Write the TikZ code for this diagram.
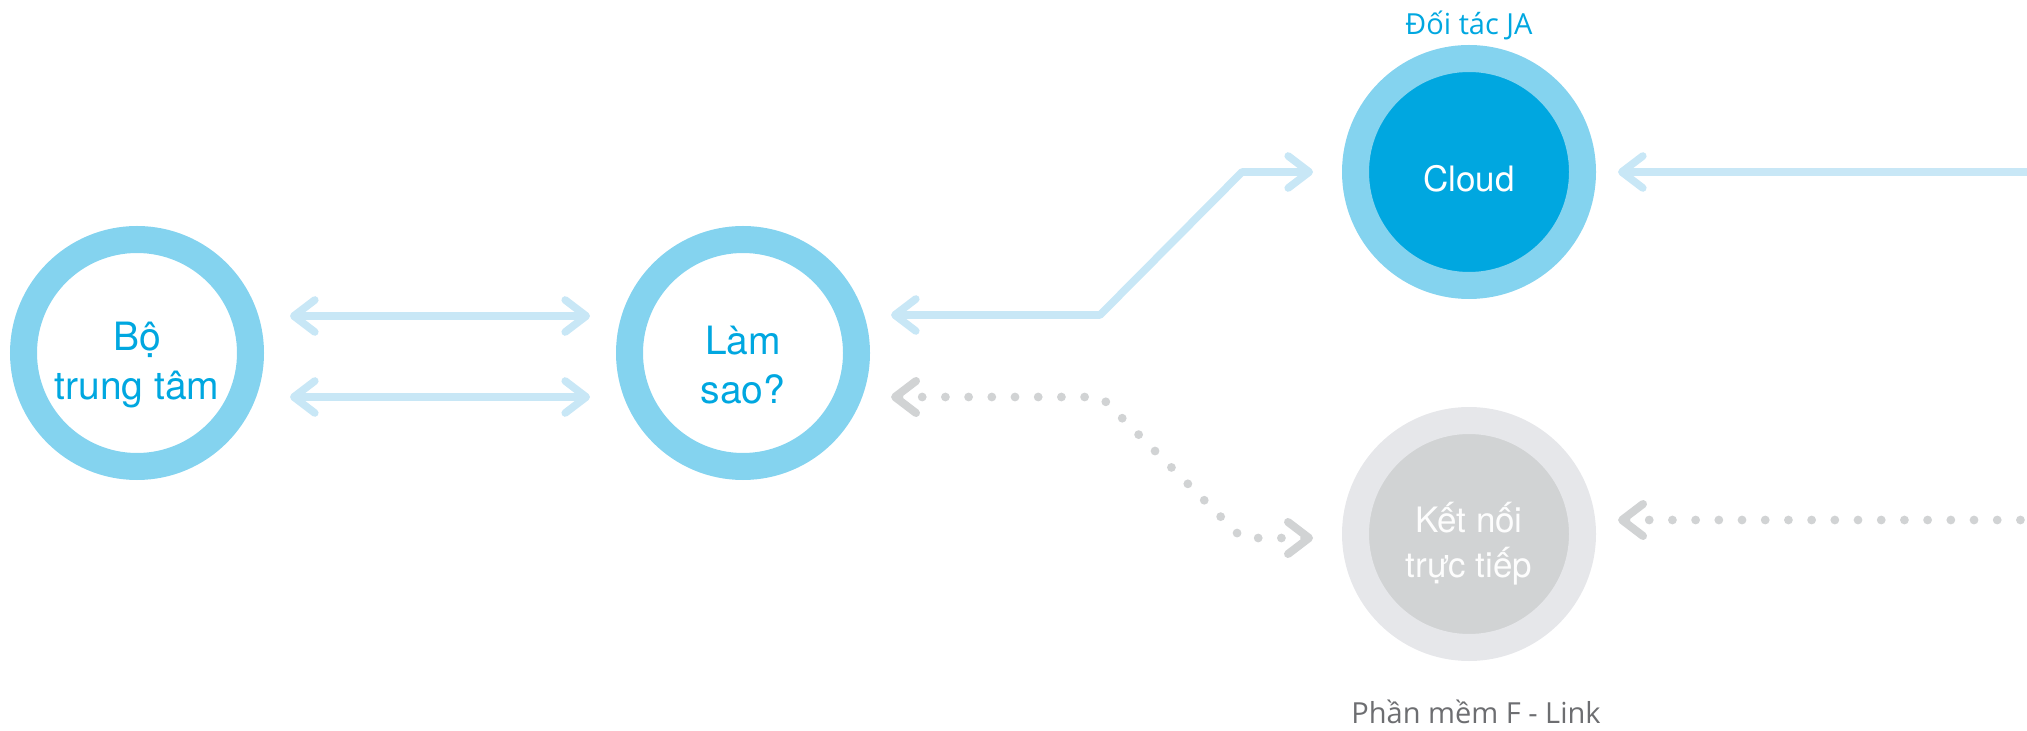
\documentclass[tikz,border=0pt]{standalone}
\usepackage{fontspec}
\setmainfont{TeX Gyre Heros}
\newfontfamily\tagfont{Open Sans}
\usepackage{xcolor}
\definecolor{ringblue}{RGB}{132,211,239}
\definecolor{cloudblue}{RGB}{0,167,224}
\definecolor{linkblue}{RGB}{200,231,246}
\definecolor{ringgrey}{RGB}{230,231,234}
\definecolor{fillgrey}{RGB}{209,211,212}
\definecolor{textgrey}{RGB}{109,110,113}
\usetikzlibrary{arrows.meta,positioning,calc}

\begin{document}
\begin{tikzpicture}[x=0.5pt,y=-0.5pt,
      ring/.style={circle,draw=ringblue,line width=13.5pt,minimum size=113.5pt,
                   inner sep=0pt},
      big/.style={align=center,text=cloudblue,font=\fontsize{19.5}{24.5}\selectfont},
      small/.style={align=center,text=white,font=\fontsize{17.5}{22.4}\selectfont},
      tag/.style={font=\tagfont\fontsize{14.5}{17}\selectfont,anchor=base},
      link/.style={draw=linkblue,line width=3.8pt,line join=round,
                   >={Straight Barb[round,length=10.5pt,width=16pt]}},
      dots/.style={draw=fillgrey,line width=4.4pt,line cap=round,line join=round,
                   dash pattern=on 0pt off 11.6pt,
                   >={Straight Barb[round,length=10.5pt,width=16pt,line width=4pt]}}]
      \useasboundingbox (0,0) rectangle (2027,731);
      \node[ring,label={[big,yshift=-6pt]center:{Bộ\\trung tâm}}] (hub) at (137,353) {};
      \node[ring,label={[big,yshift=-6pt]center:{Làm\\sao?}}] (how) at (743,353) {};
      \node[ring,fill=cloudblue,label={[small,yshift=-3.2pt]center:Cloud}] (cloud) at (1469,172) {};
      \node[ring,draw=ringgrey,fill=fillgrey,
            label={[small,text=white!96!fillgrey,yshift=-4.8pt]center:{Kết nối\\trực tiếp}}] (direct) at (1469,534) {};
      \node[tag,text=cloudblue] (partner) at (1469,35) {Đối tác JA};
      \node[tag,text=textgrey] (soft) at (1476,723) {Phần mềm F - Link};
      \coordinate (edgetop) at (2030,172);
      \coordinate (edgelow) at (2030,520);
      \draw[link,<->] ($(hub)+(153,-37)$) -- ($(how)+(-153,-37)$);
      \draw[link,<->] ($(hub)+(153,44)$) -- ($(how)+(-153,44)$);
      \draw[link,<->] ($(how)+(148,-38)$) -- ++(209,0) -- ($(cloud)+(-227,0)$) -- ($(cloud)+(-156,0)$);
      \draw[link,<-] ($(cloud)+(149,0)$) -- (edgetop);
      \draw[dots,<->] ($(how)+(148,44)$) -- ++(210,0) -- ($(direct)+(-227,4)$) -- ($(direct)+(-156,4)$);
      \draw[dots,<-] ($(direct)+(149,-14)$) -- (edgelow);
    \end{tikzpicture}
\end{document}
